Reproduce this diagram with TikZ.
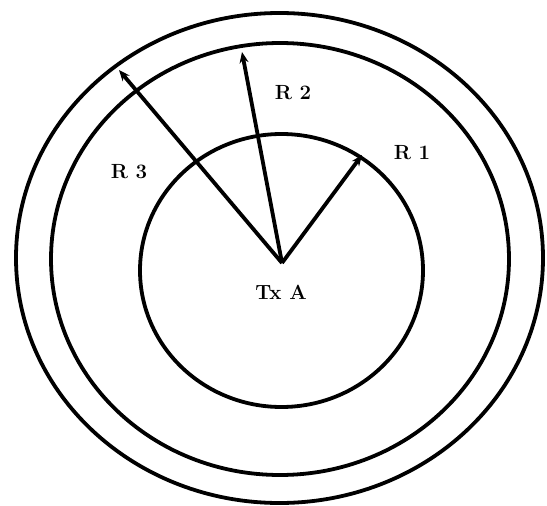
\documentclass[tikz,border=0pt]{standalone}
\usepackage{fontspec}
\usetikzlibrary{arrows.meta}
\begin{document}
\begin{tikzpicture}[x=1pt,y=-1pt,
  ring/.style={line width=3.8pt},
  ray/.style={line width=3.8pt,-{Stealth[length=11pt,width=9pt]}},
  lbl/.style={font=\bfseries\fontsize{20.5}{20.5}\selectfont,inner sep=0pt}]
\useasboundingbox (0,0) rectangle (547,506);
\draw[ring] (279.5,258) ellipse [x radius=263.5, y radius=245];
\draw[ring] (280,259) ellipse [x radius=229, y radius=216];
\draw[ring] (281.5,270.5) ellipse [x radius=141.5, y radius=136.5];
\coordinate (tx) at (282,263);
\coordinate (t1) at (362,155);
\coordinate (t2) at (242,52);
\coordinate (t3) at (119,70);
\draw[ray] (tx) -- (t1);
\draw[ray] (tx) -- (t2);
\draw[ray] (tx) -- (t3);
\node[lbl] (txa) at (281,292) {Tx A};
\node[lbl] (r1) at (412,153) {R 1};
\node[lbl] (r2) at (293,93) {R 2};
\node[lbl] (r3) at (129,172) {R 3};
\end{tikzpicture}
\end{document}
